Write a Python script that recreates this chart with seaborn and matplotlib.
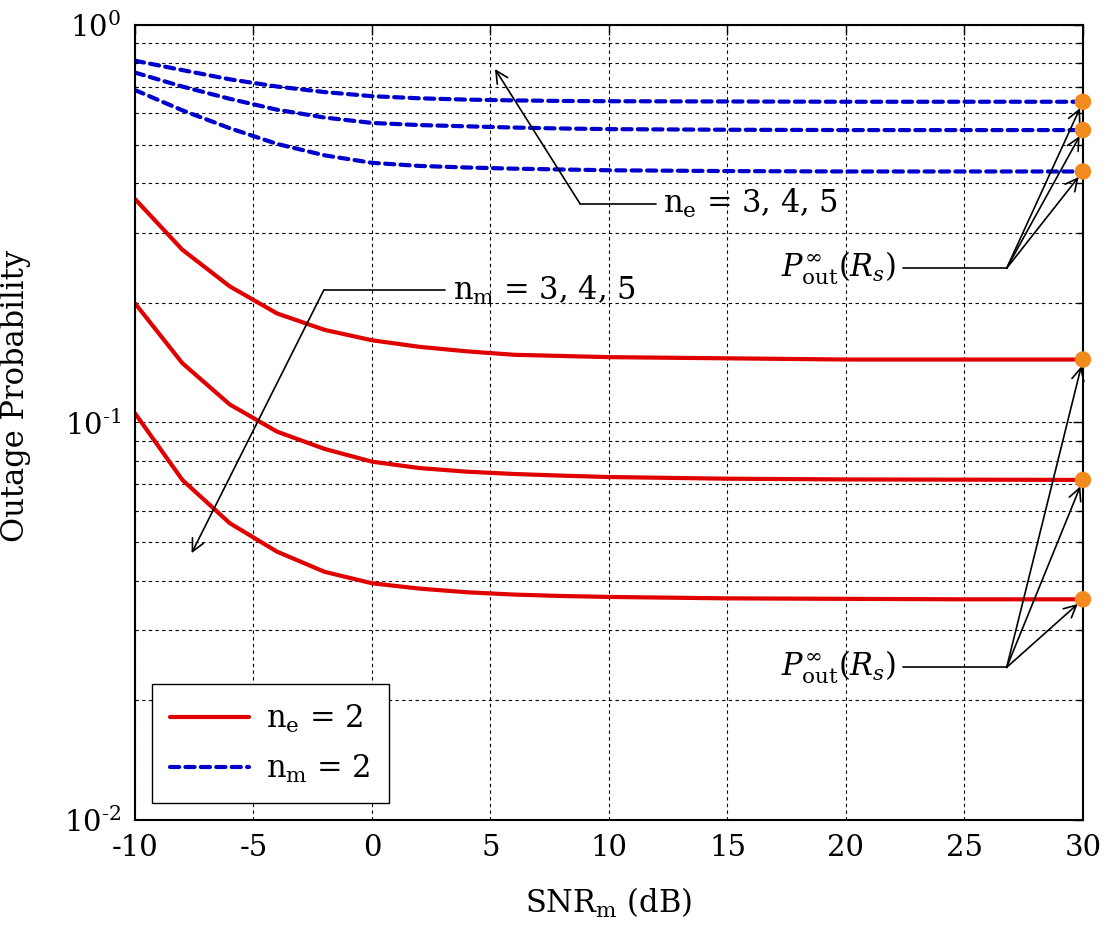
import matplotlib
matplotlib.use("Agg")
import matplotlib.pyplot as plt
from matplotlib.lines import Line2D
from matplotlib.ticker import LogLocator, NullFormatter
import seaborn as sns
import pandas as pd

# SNR_m (dB)
snr = [-10, -8, -6, -4, -2, 0, 2, 4, 6, 8, 10, 15, 20, 25, 30]

# n_e = 2, n_m = 3, 4, 5 (red, solid)
red_nm3 = [0.365, 0.272, 0.220, 0.188, 0.171, 0.161, 0.155, 0.151, 0.148, 0.147, 0.146, 0.145, 0.144, 0.144, 0.144]
red_nm4 = [0.1995, 0.141, 0.111, 0.0948, 0.0858, 0.0797, 0.0768, 0.0752, 0.0742, 0.0735, 0.0729, 0.0722, 0.0719, 0.0718, 0.0717]
red_nm5 = [0.1055, 0.0717, 0.0558, 0.0473, 0.0421, 0.0394, 0.0382, 0.0374, 0.0369, 0.0366, 0.0364, 0.0361, 0.0360, 0.0359, 0.0359]

# n_m = 2, n_e = 3, 4, 5 (blue, dashed)
blue_ne3 = [0.686, 0.610, 0.550, 0.502, 0.470, 0.450, 0.442, 0.438, 0.435, 0.433, 0.431, 0.429, 0.428, 0.428, 0.428]
blue_ne4 = [0.759, 0.700, 0.652, 0.612, 0.585, 0.567, 0.560, 0.556, 0.552, 0.549, 0.547, 0.545, 0.544, 0.544, 0.544]
blue_ne5 = [0.813, 0.770, 0.730, 0.700, 0.678, 0.662, 0.654, 0.649, 0.646, 0.644, 0.643, 0.642, 0.641, 0.641, 0.641]

# asymptotic outage values at high SNR (orange dots)
asym_x = [30, 30, 30, 30, 30, 30]
asym_y = [0.144, 0.0717, 0.0359, 0.641, 0.544, 0.428]

xticks = [-10, -5, 0, 5, 10, 15, 20, 25, 30]
xtick_labels = ["-10", "-5", "0", "5", "10", "15", "20", "25", "30"]
yticks = [0.01, 0.1, 1]
ytick_labels = [r"$10^{\text{-}2}$", r"$10^{\text{-}1}$", r"$10^{0}$"]
legend_labels = [r"n$_{\rm e}$ = 2", r"n$_{\rm m}$ = 2"]

RED = "#e00000"
BLUE = "#0000cc"
ORANGE = "#f28a1e"

sns.set_theme(style="white")
plt.rcParams["font.family"] = ["DejaVu Serif"]
plt.rcParams["mathtext.fontset"] = "dejavuserif"
plt.rcParams["axes.unicode_minus"] = False
plt.rcParams["text.color"] = "black"
plt.rcParams["axes.labelcolor"] = "black"
plt.rcParams["xtick.color"] = "black"
plt.rcParams["ytick.color"] = "black"

fig = plt.figure(figsize=(11.08, 9.32), dpi=100)
ax = fig.add_axes([0.1218, 0.1202, 0.8556, 0.853])

for ys in [red_nm3, red_nm4, red_nm5]:
    df = pd.DataFrame({"snr": snr, "p": ys})
    sns.lineplot(data=df, x="snr", y="p", color=RED, linewidth=3, ax=ax)
for ys in [blue_ne3, blue_ne4, blue_ne5]:
    df = pd.DataFrame({"snr": snr, "p": ys})
    sns.lineplot(data=df, x="snr", y="p", color=BLUE, linewidth=3,
                 linestyle=(0, (2.2, 1.5)), dash_capstyle="round", ax=ax)

sns.scatterplot(x=asym_x, y=asym_y, color=ORANGE, s=140, edgecolor="none",
                clip_on=False, zorder=5, ax=ax)

ax.set_yscale("log")
ax.set_xlim(-10, 30)
ax.set_ylim(1e-2, 1)
ax.set_xticks(xticks)
ax.set_xticklabels(xtick_labels)
ax.set_yticks(yticks)
ax.set_yticklabels(ytick_labels)
ax.yaxis.set_minor_locator(LogLocator(base=10, subs=range(2, 10), numticks=20))
ax.yaxis.set_minor_formatter(NullFormatter())

ax.grid(True, which="major", axis="both", color="black", linewidth=0.8, linestyle=(0, (3, 3)))
ax.grid(True, which="minor", axis="y", color="black", linewidth=0.8, linestyle=(0, (3, 3)))

ax.tick_params(which="both", direction="in", top=True, right=True, color="black")
ax.tick_params(which="major", length=7, width=1, labelsize=21, pad=10)
ax.tick_params(which="minor", length=4, width=1)
for s in ax.spines.values():
    s.set_color("black")
    s.set_linewidth(1.5)

ax.set_xlabel(r"SNR$_{\rm m}$ (dB)", fontsize=22)
ax.xaxis.label.set_va("center")
ax.xaxis.set_label_coords(0.5, -0.104)
ax.set_ylabel("Outage Probability", fontsize=22)
ax.yaxis.set_label_coords(-0.11, 0.533)

# annotations
arrow = dict(arrowstyle="->", color="black", lw=1.2, mutation_scale=22, shrinkA=0, shrinkB=0)
ax.plot([8.78, 12.0], [0.355, 0.355], color="black", lw=1.2)
ax.annotate("", xy=(5.19, 0.775), xytext=(8.78, 0.355), arrowprops=arrow)
ax.text(12.3, 0.355, r"n$_{\rm e}$ = 3, 4, 5", fontsize=22, va="center", ha="left")

ax.plot([-2.03, 3.1], [0.2154, 0.2154], color="black", lw=1.2)
ax.annotate("", xy=(-7.61, 0.0469), xytext=(-2.03, 0.2154), arrowprops=arrow)
ax.text(3.4, 0.2154, r"n$_{\rm m}$ = 3, 4, 5", fontsize=22, va="center", ha="left")

pout = r"$P_{\rm out}^{\infty}\left(R_s\right)$"
arrow2 = dict(arrowstyle="->", color="black", lw=1.2, mutation_scale=22, shrinkA=0, shrinkB=5)
ax.plot([22.4, 26.78], [0.2443, 0.2443], color="black", lw=1.2)
for yv in asym_y[3:]:
    ax.annotate("", xy=(30, yv), xytext=(26.78, 0.2443), arrowprops=arrow2)
ax.text(22.1, 0.2443, pout, fontsize=22, va="center", ha="right")

ax.plot([22.4, 26.78], [0.0242, 0.0242], color="black", lw=1.2)
for yv in asym_y[:3]:
    ax.annotate("", xy=(30, yv), xytext=(26.78, 0.0242), arrowprops=arrow2)
ax.text(22.1, 0.0242, pout, fontsize=22, va="center", ha="right")

handles = [Line2D([], [], color=RED, lw=3),
           Line2D([], [], color=BLUE, lw=3, linestyle=(0, (2.2, 1.5)), dash_capstyle="round")]
leg = ax.legend(handles, legend_labels, loc="lower left", bbox_to_anchor=(0.0176, 0.021),
                borderaxespad=0, fontsize=22, handlelength=2.6, handletextpad=0.55,
                labelspacing=0.6, borderpad=0.6, fancybox=False, framealpha=1)
leg.get_frame().set_edgecolor("black")
leg.get_frame().set_linewidth(1.0)

fig.savefig("out.png", dpi=100)
